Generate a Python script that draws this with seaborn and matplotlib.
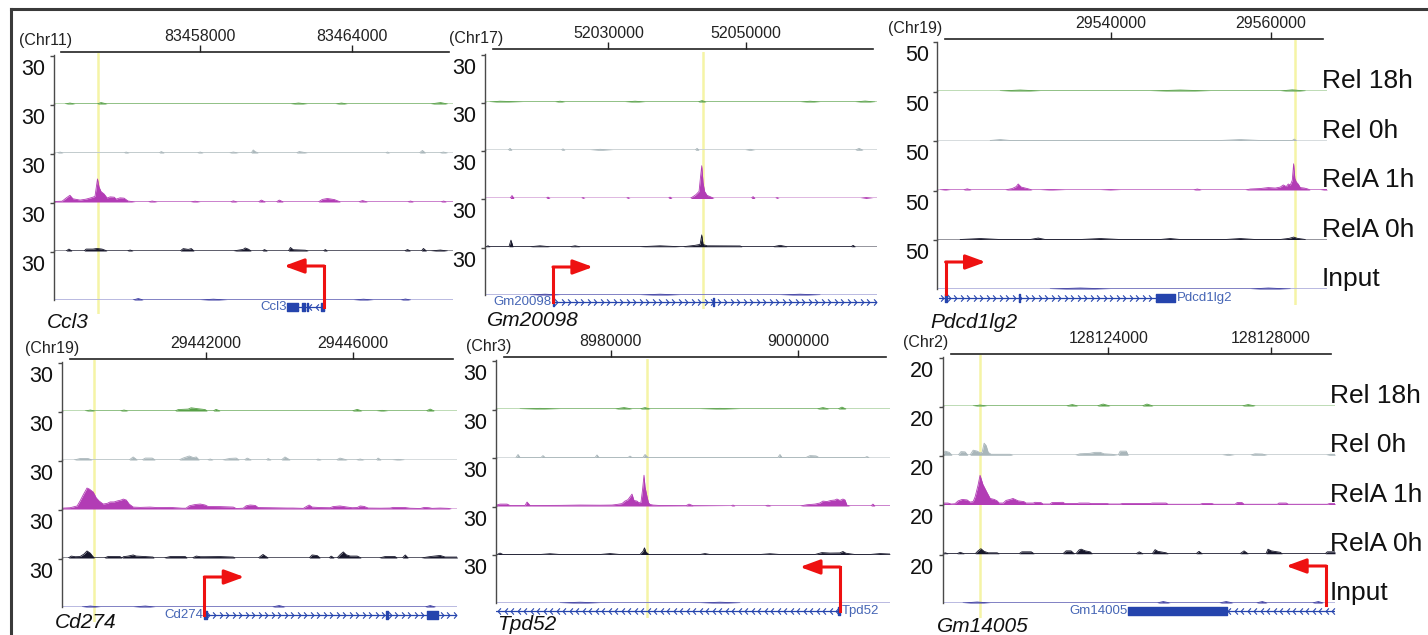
import numpy as np
import matplotlib
matplotlib.use("Agg")
import matplotlib.pyplot as plt
import matplotlib.transforms as mtrans
from matplotlib.path import Path
import seaborn as sns

# ---------------------------------------------------------------- data
track_names = ["Rel 18h", "Rel 0h", "RelA 1h", "RelA 0h", "Input"]

# Ccl3 (Chr11)
ccl3_view = [83452200, 83468000]
ccl3_ticks = [83458000, 83464000]
ccl3_highlight = 83453960
ccl3_scale = 30
ccl3_rel18_pos = [83452660, 83452850, 83453050, 83453920, 83454080, 83454320, 83461570, 83461890, 83462240,
                  83463350, 83463590, 83463820, 83467110, 83467510, 83467780]
ccl3_rel18_val = [0, 0.6, 0, 0, 0.9, 0, 0, 0.6, 0, 0, 0.6, 0, 0, 0.9, 0]
ccl3_rel0_pos = [83452340, 83452460, 83452580, 83454990, 83455070, 83455190, 83456380, 83456460, 83456580,
                 83457880, 83458000, 83458120, 83459150, 83459310, 83459510, 83460020, 83460100, 83460180,
                 83460300, 83461800, 83461920, 83462240, 83465330, 83465410, 83465490, 83466670, 83466790,
                 83466910, 83467470, 83467620, 83467780]
ccl3_rel0_val = [0, 0.6, 0, 0, 0.6, 0, 0, 0.9, 0, 0, 0.6, 0, 0, 0.6, 0, 0, 1.9, 0.8, 0, 0, 0.9, 0, 0, 0.6, 0,
                 0, 1.6, 0, 0, 0.6, 0]
ccl3_rela1_pos = [83452200, 83452540, 83452700, 83452850, 83452970, 83453250, 83453490, 83453720, 83453840,
                  83453940, 83454000, 83454080, 83454200, 83454320, 83454440, 83454600, 83454680, 83454830,
                  83454990, 83455150, 83455430, 83455940, 83456100, 83456300, 83457610, 83457800, 83458000,
                  83459190, 83459310, 83459470, 83460300, 83460420, 83460580, 83461010, 83461130, 83461290,
                  83462670, 83462830, 83463030, 83463310, 83463550, 83464260, 83464420, 83464620, 83466200,
                  83466320, 83466440, 83467510, 83467630, 83467740, 83468000]
ccl3_rela1_val = [0.3, 0.5, 2.5, 4.2, 2.0, 1.2, 1.8, 2.8, 3.5, 14.4, 9.4, 6.5, 5.0, 2.5, 3.2, 3.0, 1.8, 2.6,
                  2.4, 0.6, 0, 0, 0.6, 0, 0, 0.5, 0, 0, 0.7, 0, 0, 1.2, 0, 0, 1.2, 0, 0, 1.6, 2.2, 1.5, 0,
                  0, 0.9, 0, 0, 0.6, 0, 0, 0.6, 0, 0]
ccl3_rela0_pos = [83452700, 83452810, 83452930, 83453410, 83453490, 83453760, 83453920, 83454120, 83454320,
                  83455110, 83455230, 83455350, 83457210, 83457330, 83457530, 83457650, 83457760, 83459310,
                  83459700, 83459780, 83459900, 83460020, 83460460, 83460540, 83460660, 83461490, 83461570,
                  83461680, 83462160, 83462280, 83462870, 83462950, 83463030, 83466080, 83466200, 83466320,
                  83466750, 83466830, 83466950, 83467110, 83467500, 83467780]
ccl3_rela0_val = [0, 1.2, 0, 0, 1.2, 1.2, 1.6, 1.2, 0, 0, 0.6, 0, 0, 1.5, 1.0, 1.5, 0, 0, 1.0, 1.9, 1.2, 0,
                  0, 0.9, 0, 0, 2.2, 0.8, 0.5, 0, 0, 0.9, 0, 0, 0.9, 0, 0, 1.6, 0, 0, 0.6, 0]
ccl3_input_pos = [83455350, 83455550, 83455750, 83458000, 83458520, 83459070, 83464060, 83464460, 83464850,
                  83465920, 83466120, 83466320]
ccl3_input_val = [0, 0.9, 0, 0, 0.5, 0, 0, 0.5, 0, 0, 0.6, 0]
ccl3_span = [83461450, 83462900]
ccl3_exons = [(83461450, 83461880), (83462040, 83462130), (83462220, 83462280), (83462760, 83462900)]
ccl3_tss = 83462900

# Gm20098 (Chr17)
gm20098_view = [52012100, 52069000]
gm20098_ticks = [52030000, 52050000]
gm20098_highlight = 52043750
gm20098_scale = 30
gm20098_rel18_pos = [52012820, 52014280, 52017610, 52022260, 52022990, 52023710, 52032420, 52033880, 52035330,
                     52043020, 52043600, 52044190, 52057840, 52059290, 52060740, 52065820, 52067270, 52068720]
gm20098_rel18_val = [0, 0.5, 0, 0, 0.5, 0, 0, 0.5, 0, 0, 0.9, 0, 0, 0.5, 0, 0, 0.6, 0]
gm20098_rel0_pos = [52015440, 52015730, 52016020, 52023130, 52023420, 52023710, 52027340, 52028800, 52030680,
                    52042590, 52042880, 52043170, 52049850, 52050580, 52051300, 52065820, 52066400, 52066980]
gm20098_rel0_val = [0, 1.2, 0, 0, 0.9, 0, 0, 0.6, 0, 0, 1.2, 0, 0, 0.6, 0, 0, 1.2, 0]
gm20098_rela1_pos = [52012100, 52015730, 52016020, 52016310, 52020950, 52021240, 52021540, 52026040, 52026330,
                     52026620, 52032570, 52032860, 52033150, 52038670, 52038960, 52039250, 52041860, 52042300,
                     52042730, 52043170, 52043390, 52043560, 52043750, 52043970, 52044330, 52044770, 52045350,
                     52050720, 52051010, 52051300, 52054200, 52054500, 52054790, 52066550, 52067420, 52068430,
                     52069000]
gm20098_rela1_val = [0, 0, 1.9, 0, 0, 0.9, 0, 0, 0.6, 0, 0, 0.6, 0, 0, 0.9, 0, 0, 1.2, 2.5, 4.5, 14, 20.8,
                     10, 4.5, 2.0, 1.2, 0, 0, 1.2, 0, 0, 0.6, 0, 0, 0.6, 0, 0]
gm20098_rela0_pos = [52012240, 52012530, 52012820, 52015580, 52015870, 52016160, 52018630, 52020080, 52021540,
                     52024440, 52025170, 52025890, 52034600, 52037510, 52040410, 52040850, 52042590, 52043320,
                     52043560, 52043750, 52044330, 52049120, 52049410, 52053910, 52054930, 52055950, 52065240,
                     52065530, 52065820]
gm20098_rela0_val = [0, 0.6, 0, 0, 4.2, 0, 0, 0.6, 0, 0, 0.6, 0, 0, 0.6, 0, 0, 0.9, 1.5, 7.5, 1.5, 0.6, 0.5,
                     0, 0, 0.9, 0, 0, 0.9, 0]
gm20098_input_pos = [52018630, 52020810, 52022990, 52034600, 52037510, 52040410, 52054930, 52057840, 52060740]
gm20098_input_val = [0, 0.5, 0, 0, 0.5, 0, 0, 0.5, 0]
gm20098_span = [52021970, 52075000]
gm20098_exons = [(52021970, 52022100), (52045150, 52045400)]
gm20098_tss = 52021970

# Pdcd1lg2 (Chr19)
pdcd1lg2_view = [29518300, 29567000]
pdcd1lg2_ticks = [29540000, 29560000]
pdcd1lg2_highlight = 29563040
pdcd1lg2_scale = 50
pdcd1lg2_rel18_pos = [29526160, 29528660, 29531160, 29544910, 29548660, 29552410, 29561160, 29562660, 29564290]
pdcd1lg2_rel18_val = [0, 1.0, 0, 0, 1.0, 0, 0, 1.2, 0]
pdcd1lg2_rel0_pos = [29524910, 29526160, 29527410, 29553660, 29556160, 29558660, 29562660, 29562910, 29563160]
pdcd1lg2_rel0_val = [0, 1.0, 0, 0, 1.0, 0, 0, 1.5, 0]
pdcd1lg2_rela1_pos = [29518660, 29519290, 29519910, 29521540, 29522040, 29522540, 29526790, 29527660, 29528160,
                      29528410, 29528790, 29529540, 29530160, 29531160, 29532410, 29534290, 29538660, 29539910,
                      29541160, 29550290, 29550790, 29551290, 29556790, 29557410, 29558660, 29559660, 29560540,
                      29561160, 29561540, 29561910, 29562160, 29562410, 29562660, 29562830, 29562980, 29563160,
                      29563410, 29563660, 29564160, 29564540, 29564910, 29566160, 29566660, 29567000]
pdcd1lg2_rela1_val = [0, 0.6, 0, 0, 1.2, 0, 0, 1.5, 3.5, 6.2, 3, 1.5, 0, 0, 0.6, 0, 0, 0.5, 0, 0, 1.0, 0,
                      0, 1.0, 1.5, 2.5, 2.0, 3.0, 5.2, 3.5, 6.2, 5.0, 10, 27, 12, 8.3, 6, 2.5, 2.0, 1.2, 0,
                      0, 0.6, 0.6]
pdcd1lg2_rela0_pos = [29521160, 29523660, 29526160, 29529910, 29530910, 29531790, 29536160, 29538660, 29541160,
                      29546160, 29547410, 29548660, 29554290, 29556160, 29558040, 29561160, 29562290, 29562830,
                      29563290, 29564290]
pdcd1lg2_rela0_val = [0, 1.0, 0, 0, 1.5, 0, 0, 1.0, 0, 0, 1.0, 0, 0, 1.0, 0, 0, 1.2, 2.5, 1.2, 0]
pdcd1lg2_input_pos = [29532410, 29536160, 29539910, 29557410, 29559660, 29562410]
pdcd1lg2_input_val = [0, 1.0, 0, 0, 1.0, 0]
pdcd1lg2_span = [29518500, 29548040]
pdcd1lg2_exons = [(29519250, 29519450), (29528450, 29528650), (29545660, 29548040)]
pdcd1lg2_tss = 29519340

# Cd274 (Chr19)
cd274_view = [29438060, 29448850]
cd274_ticks = [29442000, 29446000]
cd274_highlight = 29438930
cd274_scale = 30
cd274_rel18_pos = [29438700, 29438840, 29438970, 29439650, 29439760, 29439870, 29441150, 29441240, 29441510,
                   29441590, 29441750, 29441970, 29442030, 29442190, 29442270, 29442380, 29445980, 29446120,
                   29446250, 29446640, 29446800, 29446960, 29448000, 29448110, 29448220]
cd274_rel18_val = [0, 0.6, 0, 0, 0.6, 0, 0, 0.9, 1.2, 2, 1.5, 0.9, 0, 0, 1, 0, 0, 1, 0, 0, 0.4, 0, 0, 1.2, 0]
cd274_rel0_pos = [29438400, 29438560, 29438780, 29438890, 29439900, 29440010, 29440120, 29440250, 29440340,
                  29440530, 29440610, 29441260, 29441370, 29441540, 29441650, 29441730, 29441810, 29442030,
                  29442110, 29442190, 29442440, 29442650, 29442820, 29442900, 29443040, 29443120, 29443230,
                  29443640, 29443690, 29443770, 29444050, 29444150, 29444290, 29445000, 29445050, 29445140,
                  29445550, 29445650, 29445850, 29446090, 29446200, 29446310, 29446640, 29446690, 29446770,
                  29447070, 29447240, 29447400]
cd274_rel0_val = [0, 0.9, 0.9, 0, 0, 1.9, 0, 0, 1.2, 1.2, 0, 0, 1.2, 2.5, 1.5, 1.9, 0, 0, 0.6, 0, 0, 1.0,
                  1.2, 0, 0, 1.2, 0, 0, 0.9, 0, 0, 1.9, 0, 0, 0.6, 0, 0, 1.2, 0, 0, 0.6, 0, 0, 1.2, 0, 0,
                  0.4, 0]
cd274_rela1_pos = [29438060, 29438290, 29438480, 29438560, 29438650, 29438750, 29438810, 29438920, 29439000,
                   29439080, 29439190, 29439300, 29439380, 29439490, 29439570, 29439680, 29439740, 29439820,
                   29439900, 29440010, 29440200, 29440470, 29440660, 29441020, 29441350, 29441450, 29441540,
                   29441700, 29441840, 29441970, 29442050, 29442380, 29442740, 29442820, 29443010, 29443090,
                   29443200, 29443340, 29443420, 29443750, 29444210, 29444370, 29444650, 29444730, 29444810,
                   29444890, 29445110, 29445380, 29445460, 29445650, 29445850, 29445980, 29446120, 29446200,
                   29446310, 29446420, 29446750, 29447020, 29447100, 29447430, 29447560, 29447840, 29447950,
                   29448080, 29448160, 29448380, 29448600, 29448680]
cd274_rela1_val = [0.5, 0.8, 1.9, 5, 9, 13.1, 12.5, 10.6, 7, 5, 3.1, 3.5, 4.4, 4.4, 5, 5.6, 6.2, 5.6, 3.1,
                   1.2, 1.0, 1.2, 0.9, 1.0, 0.5, 0.5, 2, 2.8, 3.1, 2.5, 1.6, 1.5, 1.2, 0.3, 0.5, 2, 2.5, 2.2,
                   0.9, 0.8, 0.6, 0.6, 0.4, 1.5, 2.5, 1.2, 0.9, 0.8, 1.5, 1.9, 1.2, 0.8, 0.9, 1.9, 1.6, 0.6,
                   0.5, 0.6, 1.0, 0.9, 0.5, 0.3, 1.0, 0.8, 0.4, 0.6, 0.4, 0]
cd274_rela0_pos = [29438240, 29438320, 29438430, 29438560, 29438670, 29438750, 29438840, 29438890, 29438950,
                   29439220, 29439330, 29439650, 29439710, 29439740, 29439870, 29440010, 29440090, 29440340,
                   29440550, 29440580, 29440850, 29441020, 29441430, 29441480, 29441620, 29441730, 29441840,
                   29441970, 29442380, 29442740, 29442790, 29443420, 29443550, 29443690, 29444810, 29444890,
                   29445030, 29445110, 29445350, 29445410, 29445490, 29445570, 29445650, 29445740, 29445820,
                   29445930, 29446120, 29446230, 29446720, 29446880, 29447150, 29447210, 29447350, 29447430,
                   29447510, 29447860, 29448110, 29448380, 29448520, 29448850]
cd274_rela0_val = [0, 1.2, 0.8, 0.9, 2.5, 4.4, 3, 1.5, 0, 0, 1.0, 0.9, 0, 0.8, 1.2, 1.9, 1.2, 0.9, 0.6, 0,
                   0, 0.9, 0.9, 0, 0, 1.2, 0.8, 0.8, 0.9, 0.6, 0, 0, 2.2, 0, 0, 1.9, 1.5, 0, 0, 1.2, 0, 0,
                   2, 3.8, 2, 1.2, 1.2, 0, 0, 0.9, 0.9, 0, 0, 1.9, 0, 0, 0.9, 1.6, 0.6, 0.6]
cd274_input_pos = [29438620, 29438840, 29439110, 29440010, 29440340, 29440610, 29443800, 29443990, 29444150,
                   29447970, 29448110, 29448250]
cd274_input_val = [0, 0.6, 0, 0, 0.6, 0, 0, 0.9, 0, 0, 0.9, 0]
cd274_span = [29441950, 29452000]
cd274_exons = [(29441950, 29442010), (29446900, 29446970), (29448030, 29448330)]
cd274_tss = 29441950

# Tpd52 (Chr3)
tpd52_view = [8967770, 9009780]
tpd52_ticks = [8980000, 9000000]
tpd52_highlight = 8983840
tpd52_scale = 30
tpd52_rel18_pos = [8970330, 8972460, 8974600, 8980460, 8981420, 8982270, 8983120, 8983660, 8984190, 8989520,
                   8991650, 8993780, 9001990, 9002630, 9003270, 9004230, 9004660, 9005080]
tpd52_rel18_val = [0, 0.4, 0, 0, 0.9, 0, 0, 0.9, 0, 0, 0.4, 0, 0, 0.9, 0, 0, 1.2, 0]
tpd52_rel0_pos = [8969900, 8970120, 8970330, 8972570, 8972780, 8973000, 8978330, 8978540, 8978750, 8981840,
                  8982060, 8982270, 8983440, 8983660, 8983980, 8997830, 8998050, 8998260, 9000820, 9001250,
                  9001890, 9002200, 9007110, 9007320, 9007530]
tpd52_rel0_val = [0, 1.9, 0, 0, 1.2, 0, 0, 1.6, 0, 0, 0.9, 0, 0, 1.9, 0, 0, 1.9, 0, 0, 1.2, 1.0, 0, 0, 0.6, 0]
tpd52_rela1_pos = [8967770, 8968200, 8968950, 8969270, 8970860, 8971080, 8971400, 8974600, 8976730, 8978860,
                   8980140, 8980670, 8981200, 8981520, 8981840, 8982270, 8982480, 8982800, 8983020, 8983230,
                   8983390, 8983550, 8983660, 8983870, 8984030, 8984190, 8984510, 8985260, 8988030, 8988350,
                   8988770, 8992820, 8993040, 8993250, 8996450, 8996770, 8997090, 9000180, 9000930, 9001780,
                   9002310, 9002630, 9003060, 9003480, 9003910, 9004120, 9004440, 9004760, 9004980, 9005190,
                   9005510, 9007750, 9007960, 9008170, 9009780]
tpd52_rela1_val = [0.5, 1.2, 1.2, 0.3, 0.3, 2.5, 0.3, 0.4, 0.6, 0.5, 0.6, 1.0, 1.5, 3.1, 4, 7.5, 3.5, 3.1,
                   2, 2.5, 10, 19.4, 12, 6, 2.0, 1.0, 0.6, 0.3, 0.2, 1.2, 0.2, 0, 0.6, 0, 0, 0.5, 0, 0, 0.8,
                   1.2, 1.9, 3.1, 2.8, 3.5, 3.8, 4.4, 3.5, 4.4, 3.8, 0.5, 0, 0, 1.2, 0, 0]
tpd52_rela0_pos = [8967880, 8968200, 8968520, 8972460, 8973530, 8974600, 8978860, 8979930, 8980990, 8983120,
                   8983440, 8983600, 8983760, 8984080, 8989520, 8990050, 8990590, 8995920, 8996980, 8998050,
                   9001780, 9002520, 9003380, 9004440, 9004760, 9005080, 9006040, 9007640, 9008710, 9009780]
tpd52_rela0_val = [0, 0.9, 0, 0, 0.5, 0, 0, 0.6, 0, 0, 2, 4.2, 1.5, 0, 0, 0.6, 0, 0, 0.5, 0, 0, 1.2, 0.9,
                   1.0, 1.9, 0.8, 0, 0, 0.6, 0.3]
tpd52_input_pos = [8974600, 8976730, 8978860, 8989520, 8991650, 8993780]
tpd52_input_val = [0, 0.5, 0, 0, 0.5, 0]
tpd52_span = [8960000, 9004440]
tpd52_exons = [(9004250, 9004440)]
tpd52_tss = 9004440

# Gm14005 (Chr2)
gm14005_view = [128119920, 128129580]
gm14005_ticks = [128124000, 128128000]
gm14005_highlight = 128120840
gm14005_scale = 20
gm14005_rel18_pos = [128120670, 128120840, 128121010, 128122960, 128123110, 128123250, 128123720, 128123870,
                     128124040, 128124830, 128124950, 128125100, 128127290, 128127440, 128127610]
gm14005_rel18_val = [0, 0.4, 0, 0, 0.6, 0, 0, 0.8, 0, 0, 0.8, 0, 0, 0.6, 0]
gm14005_rel0_pos = [128119920, 128119980, 128120080, 128120150, 128120300, 128120370, 128120470, 128120540,
                    128120590, 128120670, 128120770, 128120840, 128120890, 128120940, 128120990, 128121040,
                    128121110, 128121580, 128121650, 128123180, 128123300, 128123550, 128123670, 128123800,
                    128123890, 128124090, 128124240, 128124290, 128124440, 128124490, 128126800, 128126950,
                    128127100, 128127490, 128127610, 128127790, 128127910, 128129360, 128129460, 128129580]
gm14005_rel0_val = [0, 1.7, 1.2, 0, 0, 1.5, 1.4, 0, 0, 2.1, 1.7, 1.0, 1.2, 5, 4, 1.2, 0.4, 0.4, 0, 0, 0.6,
                    0.8, 1.2, 1.2, 0.6, 0.4, 0, 1.7, 1.7, 0, 0, 0.4, 0, 0, 0.6, 0.5, 0, 0, 0.4, 0.4]
gm14005_rela1_pos = [128119930, 128120050, 128120130, 128120220, 128120300, 128120400, 128120520, 128120590,
                     128120670, 128120720, 128120790, 128120840, 128120910, 128121010, 128121090, 128121190,
                     128121260, 128121310, 128121410, 128121480, 128121580, 128121650, 128121780, 128121920,
                     128121970, 128122150, 128122190, 128122340, 128122390, 128122560, 128122610, 128122880,
                     128122930, 128123230, 128123280, 128123520, 128123570, 128123970, 128124020, 128124290,
                     128124340, 128125030, 128125080, 128125420, 128125470, 128126260, 128126310, 128126550,
                     128126600, 128127120, 128127170, 128127290, 128127340, 128128160, 128128200, 128128380,
                     128128430, 128129390, 128129440, 128129580]
gm14005_rela1_val = [0.6, 0.6, 0.2, 0.3, 1.5, 2.1, 1.9, 1.0, 1.2, 3.3, 8, 12.1, 8.3, 5, 2.5, 2.1, 1.5, 0.6,
                     0.6, 1.7, 2.1, 2.5, 1.5, 1.2, 0.6, 0.6, 0.9, 0.8, 0.2, 0.2, 0.8, 0.9, 0.4, 0.4, 0.6, 0.6,
                     0.4, 0.4, 0.2, 0.2, 0.4, 0.4, 0.6, 0.6, 0.1, 0.1, 0.4, 0.4, 0.1, 0.1, 0.8, 0.8, 0.1, 0.1,
                     0.6, 0.6, 0.1, 0.1, 0.4, 0.4]
gm14005_rela0_pos = [128119930, 128119980, 128120050, 128120270, 128120350, 128120450, 128120720, 128120790,
                     128120860, 128120940, 128121040, 128121260, 128121310, 128121800, 128121870, 128122100,
                     128122170, 128122880, 128122960, 128123080, 128123160, 128123200, 128123280, 128123330,
                     128123430, 128123550, 128123600, 128124680, 128124760, 128124850, 128125080, 128125150,
                     128125220, 128125420, 128125470, 128126160, 128126230, 128126310, 128127240, 128127340,
                     128127440, 128127880, 128127930, 128128010, 128128230, 128128280, 128129340, 128129390,
                     128129580]
gm14005_rela0_val = [0, 0.4, 0, 0, 0.6, 0, 0, 1.2, 2.1, 1.0, 0.4, 0.4, 0, 0, 0.8, 0.8, 0, 0, 1.2, 1.2, 0, 0,
                     1.6, 1.9, 1.2, 0.8, 0, 0, 0.8, 0, 0, 1.7, 1.0, 0.4, 0, 0, 1.0, 0, 0, 1.2, 0, 0, 1.9, 1.2,
                     0.6, 0, 0, 0.8, 0.8]
gm14005_input_pos = [128120420, 128120770, 128121090, 128125200, 128125350, 128125520, 128126730, 128126900,
                     128127070, 128127640, 128127790, 128127910, 128129020, 128129170, 128129290]
gm14005_input_val = [0, 0.4, 0, 0, 0.6, 0, 0, 0.6, 0, 0, 0.6, 0, 0, 0.6, 0]
gm14005_span = [128124490, 128129580]
gm14005_exons = [(128124490, 128126920)]
gm14005_tss = 128129360

panels = [
    dict(gene="Ccl3", chrom="(Chr11)", view=ccl3_view, ticks=ccl3_ticks, hl=ccl3_highlight, scale=ccl3_scale,
         tracks=[(ccl3_rel18_pos, ccl3_rel18_val), (ccl3_rel0_pos, ccl3_rel0_val),
                 (ccl3_rela1_pos, ccl3_rela1_val), (ccl3_rela0_pos, ccl3_rela0_val),
                 (ccl3_input_pos, ccl3_input_val)],
         span=ccl3_span, exons=ccl3_exons, strand="-", tss=ccl3_tss, side="left"),
    dict(gene="Gm20098", chrom="(Chr17)", view=gm20098_view, ticks=gm20098_ticks, hl=gm20098_highlight,
         scale=gm20098_scale,
         tracks=[(gm20098_rel18_pos, gm20098_rel18_val), (gm20098_rel0_pos, gm20098_rel0_val),
                 (gm20098_rela1_pos, gm20098_rela1_val), (gm20098_rela0_pos, gm20098_rela0_val),
                 (gm20098_input_pos, gm20098_input_val)],
         span=gm20098_span, exons=gm20098_exons, strand="+", tss=gm20098_tss, side="left"),
    dict(gene="Pdcd1lg2", chrom="(Chr19)", view=pdcd1lg2_view, ticks=pdcd1lg2_ticks, hl=pdcd1lg2_highlight,
         scale=pdcd1lg2_scale,
         tracks=[(pdcd1lg2_rel18_pos, pdcd1lg2_rel18_val), (pdcd1lg2_rel0_pos, pdcd1lg2_rel0_val),
                 (pdcd1lg2_rela1_pos, pdcd1lg2_rela1_val), (pdcd1lg2_rela0_pos, pdcd1lg2_rela0_val),
                 (pdcd1lg2_input_pos, pdcd1lg2_input_val)],
         span=pdcd1lg2_span, exons=pdcd1lg2_exons, strand="+", tss=pdcd1lg2_tss, side="right"),
    dict(gene="Cd274", chrom="(Chr19)", view=cd274_view, ticks=cd274_ticks, hl=cd274_highlight,
         scale=cd274_scale,
         tracks=[(cd274_rel18_pos, cd274_rel18_val), (cd274_rel0_pos, cd274_rel0_val),
                 (cd274_rela1_pos, cd274_rela1_val), (cd274_rela0_pos, cd274_rela0_val),
                 (cd274_input_pos, cd274_input_val)],
         span=cd274_span, exons=cd274_exons, strand="+", tss=cd274_tss, side="left"),
    dict(gene="Tpd52", chrom="(Chr3)", view=tpd52_view, ticks=tpd52_ticks, hl=tpd52_highlight,
         scale=tpd52_scale,
         tracks=[(tpd52_rel18_pos, tpd52_rel18_val), (tpd52_rel0_pos, tpd52_rel0_val),
                 (tpd52_rela1_pos, tpd52_rela1_val), (tpd52_rela0_pos, tpd52_rela0_val),
                 (tpd52_input_pos, tpd52_input_val)],
         span=tpd52_span, exons=tpd52_exons, strand="-", tss=tpd52_tss, side="right"),
    dict(gene="Gm14005", chrom="(Chr2)", view=gm14005_view, ticks=gm14005_ticks, hl=gm14005_highlight,
         scale=gm14005_scale,
         tracks=[(gm14005_rel18_pos, gm14005_rel18_val), (gm14005_rel0_pos, gm14005_rel0_val),
                 (gm14005_rela1_pos, gm14005_rela1_val), (gm14005_rela0_pos, gm14005_rela0_val),
                 (gm14005_input_pos, gm14005_input_val)],
         span=gm14005_span, exons=gm14005_exons, strand="-", tss=gm14005_tss, side="left"),
]

# ---------------------------------------------------------------- layout (pixels)
layout = [
    dict(x0=53.5, x1=453, base=104, pitch=49, ruler=52, chr_x=72, name=(47, 322), gene_y=307, arrow=(307, 266), names=False),
    dict(x0=485, x1=877, base=102, pitch=48.25, ruler=49, chr_x=503, name=(487, 320), gene_y=302, arrow=(302, 267), names=False),
    dict(x0=937.3, x1=1327, base=91, pitch=49.5, ruler=39, chr_x=942, name=(930, 322), gene_y=298, arrow=(294, 262), names=True),
    dict(x0=61.7, x1=457.3, base=411, pitch=49, ruler=359, chr_x=79, name=(55, 623), gene_y=615, arrow=(615, 577), names=False),
    dict(x0=496, x1=890, base=409, pitch=48.5, ruler=357, chr_x=511, name=(497, 625), gene_y=611, arrow=(611, 567), names=False),
    dict(x0=942.7, x1=1335, base=406, pitch=49.25, ruler=354, chr_x=948, name=(937, 627), gene_y=611, arrow=(605, 566), names=True),
]

track_colors = ["#57a047", "#a9b6ba", "#b23cb5", "#17172b", "#3a3aa0"]
base_colors = ["#b9d9b0", "#d3d9db", "#dcb2de", "#8c8c95", "#b4b4de"]
gene_color = "#2544ad"
red = "#ee1111"

sns.set_theme(style="white")
plt.rcParams["font.family"] = ["Liberation Sans", "DejaVu Sans"]

W, H = 1428, 635
fig = plt.figure(figsize=(W / 100, H / 100), dpi=100)


def rect(left, top, right, bottom):
    return [left / W, 1 - bottom / H, (right - left) / W, (bottom - top) / H]


# outer frame (top and left edges of the original figure box)
frame = fig.add_axes(rect(10.5, 8.5, 1500, 700))
frame.set_xticks([])
frame.set_yticks([])
frame.patch.set_alpha(0)
for s in ["right", "bottom"]:
    frame.spines[s].set_visible(False)
for s in ["top", "left"]:
    frame.spines[s].set_color("#3a3a3a")
    frame.spines[s].set_linewidth(2.2)

chev_right = Path([(-0.45, 1), (0.45, 0), (-0.45, -1)])
chev_left = Path([(0.45, 1), (-0.45, 0), (0.45, -1)])

for p, lay in zip(panels, layout):
    x0, x1 = lay["x0"], lay["x1"]
    v0, v1 = p["view"]
    bpp = (v1 - v0) / (x1 - x0)
    top = lay["base"] - lay["pitch"]
    gy = lay["gene_y"]

    # yellow highlight behind everything
    hl = fig.add_axes(rect(x0, top - 2, x1, gy + 7))
    hl.set_xlim(v0, v1)
    hl.axis("off")
    hl.axvline(p["hl"], color="#f5f4a6", lw=1.8)
    hl.set_zorder(0)

    # coordinate ruler
    ru = fig.add_axes(rect(x0, lay["ruler"], x1, lay["ruler"] + 2))
    ru.set_xlim(v0, v1)
    ru.patch.set_alpha(0)
    for s in ["left", "right", "bottom"]:
        ru.spines[s].set_visible(False)
    ru.spines["top"].set_bounds(v0 + 0.02 * (v1 - v0), v1 - 0.01 * (v1 - v0))
    ru.spines["top"].set_color("#222222")
    ru.spines["top"].set_linewidth(1.2)
    ru.xaxis.set_ticks_position("top")
    ru.set_xticks(p["ticks"])
    ru.set_xticklabels([str(t) for t in p["ticks"]])
    ru.tick_params(axis="x", direction="out", length=5, width=1, pad=0.5, labelsize=11.5,
                   top=True, bottom=False, labeltop=True, labelbottom=False, colors="#222222")
    ru.set_yticks([])
    fig.text(lay["chr_x"] / W, 1 - (lay["ruler"] - 11) / H, p["chrom"], ha="right", va="center",
             fontsize=11.5, color="#222222")

    # signal tracks
    for i, (pos, val) in enumerate(p["tracks"]):
        b = lay["base"] + i * lay["pitch"]
        ax = fig.add_axes(rect(x0, b - lay["pitch"], x1, b))
        ax.set_zorder(1)
        ax.patch.set_alpha(0)
        ax.axhline(0, color=base_colors[i], lw=1.3, zorder=0.5)
        ax.fill_between(pos, val, color=track_colors[i], lw=0, zorder=1)
        sns.lineplot(x=pos, y=val, ax=ax, color=track_colors[i], lw=0.6, estimator=None, sort=False, zorder=1.2)
        ax.set_xlim(v0, v1)
        ax.set_ylim(0, p["scale"] * 1.02)
        ax.set_xlabel("")
        ax.set_ylabel("")
        ax.set_xticks([])
        for s in ["top", "right", "bottom"]:
            ax.spines[s].set_visible(False)
        ax.spines["left"].set_color("#4a4a4a")
        ax.spines["left"].set_linewidth(1.0)
        ax.set_yticks([p["scale"]])
        ax.set_yticklabels([str(p["scale"])])
        ax.tick_params(axis="y", left=True, length=3, width=1, color="#4a4a4a", pad=3, labelsize=15.5,
                       labelcolor="#111111")
        for t in ax.get_yticklabels():
            t.set_va("top")
            t.set_transform(t.get_transform() + mtrans.ScaledTranslation(0, -3 / 100, fig.dpi_scale_trans))
        if lay["names"]:
            ax.text(1 - 5 / (x1 - x0), 0.06, track_names[i], transform=ax.transAxes, ha="left",
                    va="baseline", fontsize=19, color="#111111", clip_on=False)

    # gene model row
    ga = fig.add_axes(rect(x0, gy - 8, x1, gy + 8))
    ga.set_zorder(1)
    ga.set_xlim(v0, v1)
    ga.set_ylim(-1, 1)
    ga.axis("off")
    gs, ge = p["span"]
    ga.plot([max(gs, v0), min(ge, v1)], [0, 0], color=gene_color, lw=0.9)
    step = 6.5 * bpp
    cx = np.arange(max(gs, v0) + step / 2, min(ge, v1), step)
    ga.plot(cx, np.zeros_like(cx), ls="none", marker=chev_right if p["strand"] == "+" else chev_left,
            ms=4.5, mec=gene_color, mfc="none", mew=0.8)
    ga.broken_barh([(s, e - s) for s, e in p["exons"]], (-0.45, 0.9), color=gene_color, zorder=3)
    if p["side"] == "left":
        ga.text(gs, 0, p["gene"], ha="right", va="center", fontsize=9.5, color="#4565b5",
                family=["Liberation Sans Narrow", "Liberation Sans"],
                transform=mtrans.offset_copy(ga.transData, fig=fig, x=-1, units="dots"))
    else:
        ga.text(ge, 0, p["gene"], ha="left", va="center", fontsize=9.5, color="#4565b5",
                family=["Liberation Sans Narrow", "Liberation Sans"],
                transform=mtrans.offset_copy(ga.transData, fig=fig, x=2, units="dots"))

    fig.text(lay["name"][0] / W, 1 - lay["name"][1] / H, p["gene"], style="italic", fontsize=15,
             ha="left", va="center", color="#111111")

    # red TSS arrow on top
    ar = fig.add_axes(rect(x0, top - 2, x1, gy + 7))
    ar.set_zorder(5)
    ar.set_xlim(v0, v1)
    ar.set_ylim(gy + 7, top - 2)
    ar.axis("off")
    yb, yt = lay["arrow"]
    direction = 1 if p["strand"] == "+" else -1
    ar.plot([p["tss"], p["tss"]], [yb, yt], color=red, lw=2.2, solid_capstyle="projecting")
    ar.annotate("", xy=(p["tss"] + direction * 40 * bpp, yt), xytext=(p["tss"], yt),
                arrowprops=dict(arrowstyle="-|>,head_length=0.6,head_width=0.22", color=red, lw=2.2,
                                mutation_scale=20, shrinkA=0, shrinkB=0))

fig.savefig("out.png", dpi=100, facecolor="white")
